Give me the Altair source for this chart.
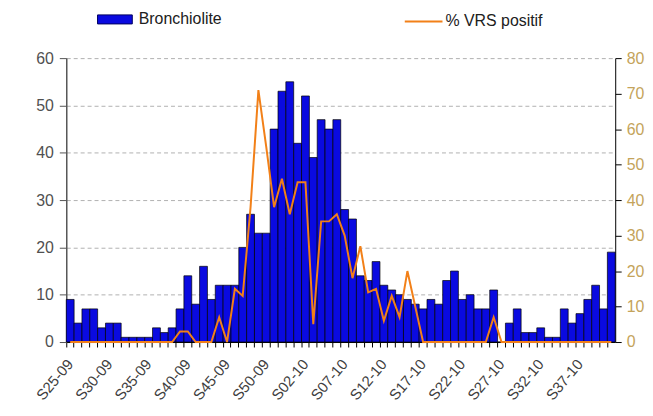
import json
import altair as alt
import pandas as pd

# Weekly categories: S25-09 ... S53-09, S01-10 ... S41-10
weeks = [f"S{w:02d}-09" for w in range(25, 54)] + [f"S{w:02d}-10" for w in range(1, 42)]

bronchiolite = [
    9, 4, 7, 7, 3, 4, 4, 1, 1, 1, 1, 3, 2, 3, 7, 14, 8, 16,
    9, 12, 12, 12, 20, 27, 23, 23,
    45, 53, 55, 42, 52, 39, 47, 45, 47,
    28, 26, 14, 13, 17, 12, 11, 10, 9, 8, 7, 9, 8,
    13, 15, 9, 10, 7, 7, 11, 0, 4, 7, 2, 2, 3, 1, 1, 7, 4, 6, 9, 12, 7, 19,
]

vrs_positif = [
    0, 0, 0, 0, 0, 0, 0, 0, 0, 0, 0, 0, 0, 0, 3, 3, 0, 0,
    0, 7, 0, 15, 13, 38, 71, 55,
    38, 46, 36, 45, 45, 5, 34, 34, 36,
    30, 18, 27, 14, 15, 6, 13, 7, 20, 10, 0, 0, 0,
    0, 0, 0, 0, 0, 0, 7, 0, 0, 0, 0, 0, 0, 0, 0, 0, 0, 0, 0, 0, 0, 0,
]

label_weeks = weeks[::5]

df = pd.DataFrame({
    "semaine": weeks,
    "Bronchiolite": bronchiolite,
    "VRS": vrs_positif,
    "s1": "Bronchiolite",
    "s2": "% VRS positif",
})

label_expr = "indexof(" + json.dumps(label_weeks) + ", datum.value) >= 0 ? datum.value : ''"

x_enc = alt.X(
    "semaine:N",
    sort=weeks,
    title=None,
    scale=alt.Scale(paddingInner=0, paddingOuter=0),
    axis=alt.Axis(
        labelExpr=label_expr,
        labelAngle=310,
        labelAlign="right",
        labelBaseline="middle",
        labelOverlap=False,
        bandPosition=0,
        tickSize=5,
        tickColor="black",
        domainColor="black",
        labelFontSize=15,
        labelColor="#404040",
        labelPadding=14,
        grid=False,
    ),
)

bars = alt.Chart(df).mark_bar(stroke="black", strokeWidth=0.7).encode(
    x=x_enc,
    y=alt.Y(
        "Bronchiolite:Q",
        scale=alt.Scale(domain=[0, 60]),
        axis=alt.Axis(
            values=list(range(0, 61, 10)),
            title=None,
            grid=True,
            gridDash=[4, 3],
            gridColor="#b0b0b0",
            gridWidth=1,
            tickSize=7,
            tickColor="#555555",
            domainColor="#555555",
            domainWidth=1.5,
            labelFontSize=16,
            labelColor="#505050",
            labelPadding=6,
        ),
    ),
    color=alt.Color(
        "s1:N",
        scale=alt.Scale(domain=["Bronchiolite"], range=["#0a0ae0"]),
        legend=alt.Legend(
            title=None,
            orient="none",
            legendX=31,
            legendY=-57,
            symbolType="M-1,-0.26L1,-0.26L1,0.26L-1,0.26Z",
            symbolSize=1225,
            symbolStrokeColor="#000060",
            symbolStrokeWidth=1,
            labelFontSize=16,
            labelColor="#202020",
            labelOffset=6,
            padding=0,
        ),
    ),
)

line = alt.Chart(df).mark_line(strokeWidth=2).encode(
    x=x_enc,
    y=alt.Y(
        "VRS:Q",
        scale=alt.Scale(domain=[0, 80]),
        axis=alt.Axis(
            orient="right",
            values=list(range(0, 81, 10)),
            title=None,
            grid=False,
            tickSize=6,
            tickColor="black",
            domainColor="black",
            labelFontSize=16,
            labelColor="#c4a35a",
            labelPadding=5,
        ),
    ),
    stroke=alt.Stroke(
        "s2:N",
        scale=alt.Scale(domain=["% VRS positif"], range=["#f28018"]),
        legend=alt.Legend(
            title=None,
            orient="none",
            legendX=340,
            legendY=-57,
            symbolType="stroke",
            symbolSize=1444,
            symbolStrokeWidth=2,
            labelFontSize=16,
            labelColor="#202020",
            labelOffset=2,
            padding=0,
        ),
    ),
)

chart = (
    alt.layer(bars, line)
    .resolve_scale(y="independent", color="independent", stroke="independent")
    .properties(
        width=553,
        height=286,
        padding={"left": 58.7, "top": 49, "right": 30, "bottom": 70},
        autosize=alt.AutoSizeParams(type="none"),
    )
    .configure(font="Liberation Sans")
    .configure_view(stroke=None)
)

chart.save("out.html", embed_options={"renderer": "svg", "actions": False})
